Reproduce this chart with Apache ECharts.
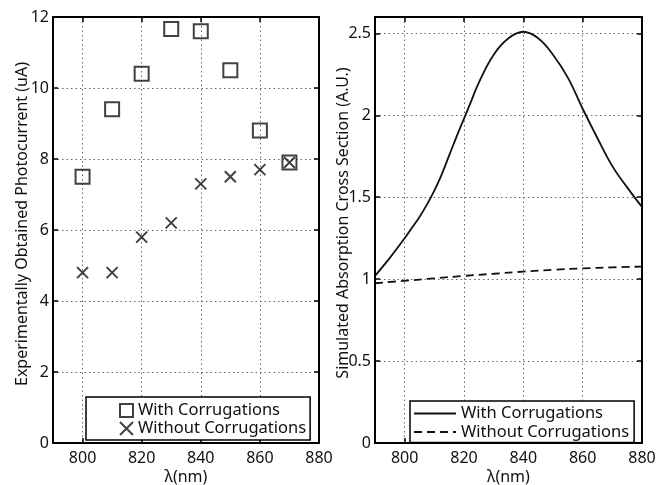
<!DOCTYPE html>
<html>
<head>
<meta charset="utf-8">
<script src="https://cdn.jsdelivr.net/npm/echarts@6/dist/echarts.min.js"></script>
<style>
  html, body { margin: 0; padding: 0; background: #fff; }
  #main { width: 666px; height: 485px; }
</style>
</head>
<body>
<div id="main"></div>
<script>
// measured photocurrent (left panel)
const wavelengths = [800, 810, 820, 830, 840, 850, 860, 870];
const withCorr = [7.5, 9.4, 10.4, 11.66, 11.6, 10.5, 8.8, 7.9];
const withoutCorr = [4.8, 4.8, 5.8, 6.2, 7.3, 7.5, 7.7, 7.9];

// simulated absorption cross section (right panel)
const simX = [790, 795, 800, 802.5, 805, 807.5, 810, 812.5, 815, 817.5, 820, 822.5, 825, 830, 835, 840, 845, 850, 855, 860, 865, 870, 875, 880];
const simWith = [1.02, 1.13, 1.25, 1.315, 1.38, 1.455, 1.54, 1.64, 1.755, 1.87, 1.98, 2.09, 2.2, 2.37, 2.47, 2.51, 2.47, 2.37, 2.23, 2.04, 1.86, 1.69, 1.56, 1.44];
const simWithoutX = [790, 800, 810, 820, 830, 840, 850, 860, 870, 880];
const simWithout = [0.975, 0.99, 1.005, 1.02, 1.033, 1.046, 1.057, 1.066, 1.072, 1.077];

const legendNames = ['With Corrugations', 'Without Corrugations'];
const xTicks = [800, 820, 840, 860, 880];

const FONT = 'Noto Sans';
const INK = '#111';
const chartDom = document.getElementById('main');
const myChart = echarts.init(chartDom);

const frameLine = { show: true, onZero: false, lineStyle: { color: '#000', width: 2 } };
const innerTick = { show: true, inside: true, length: 5, lineStyle: { color: '#000', width: 1.5 } };
const dotted = { show: true, lineStyle: { type: [1.5, 3], color: '#666', width: 1 } };
const tickFont = { fontFamily: FONT, fontSize: 16, color: INK };
const titleFont = { fontFamily: FONT, fontSize: 16, color: INK };

function xAxisFor(gridIndex) {
    return {
        type: 'value', gridIndex: gridIndex, min: 790, max: 880,
        axisLine: frameLine, axisTick: innerTick, splitLine: dotted,
        axisLabel: Object.assign({ margin: 7, showMinLabel: false,
            formatter: v => (xTicks.indexOf(v) >= 0 ? String(v) : '') }, tickFont),
        name: 'λ(nm)', nameLocation: 'middle', nameGap: 26, nameMoveOverlap: false,
        nameTextStyle: titleFont
    };
}
function topAxisFor(gridIndex) {
    return {
        type: 'value', gridIndex: gridIndex, min: 790, max: 880, position: 'top',
        axisLine: frameLine, axisTick: innerTick, axisLabel: { show: false }, splitLine: { show: false }
    };
}
function rightAxisFor(gridIndex, max, interval) {
    return {
        type: 'value', gridIndex: gridIndex, min: 0, max: max, interval: interval, position: 'right',
        axisLine: frameLine, axisTick: innerTick, axisLabel: { show: false }, splitLine: { show: false }
    };
}

const legendBase = {
    orient: 'vertical', borderColor: '#000', borderWidth: 1.5, backgroundColor: '#fff',
    selectedMode: false, itemStyle: { opacity: 0 },
    textStyle: { fontFamily: FONT, fontSize: 16.5, color: INK, lineHeight: 16 }
};

const option = {
    animation: false,
    backgroundColor: '#fff',
    grid: [
        { left: 53, top: 17, width: 266, height: 426, outerBoundsMode: 'none' },
        { left: 375, top: 17, width: 267, height: 426, outerBoundsMode: 'none' }
    ],
    xAxis: [xAxisFor(0), xAxisFor(1), topAxisFor(0), topAxisFor(1)],
    yAxis: [
        {
            type: 'value', gridIndex: 0, min: 0, max: 12, interval: 2,
            axisLine: frameLine, axisTick: innerTick, splitLine: dotted,
            axisLabel: Object.assign({ margin: 4 }, tickFont),
            name: 'Experimentally Obtained Photocurrent (uA)', nameLocation: 'middle',
            nameGap: 23, nameMoveOverlap: false,
            nameTextStyle: Object.assign({ padding: [0, 0, 0, 12] }, titleFont)
        },
        {
            type: 'value', gridIndex: 1, min: 0, max: 2.6, interval: 0.5,
            axisLine: frameLine, axisTick: innerTick, splitLine: dotted,
            axisLabel: Object.assign({ margin: 4, showMaxLabel: false,
                formatter: v => (Math.abs(v * 2 - Math.round(v * 2)) < 1e-6 ? String(v) : '') }, tickFont),
            name: 'Simulated Absorption Cross Section (A.U.)', nameLocation: 'middle',
            nameGap: 24, nameMoveOverlap: false,
            nameTextStyle: Object.assign({ padding: [0, 0, 0, 14] }, titleFont)
        },
        rightAxisFor(0, 12, 2),
        rightAxisFor(1, 2.6, 0.5)
    ],
    legend: [
        Object.assign({}, legendBase, {
            data: legendNames, left: 86, top: 397,
            padding: [5, 4, 3, 33], itemGap: 1, itemWidth: 13, itemHeight: 13,
            itemStyle: {}
        }),
        Object.assign({}, legendBase, {
            data: legendNames.map(n => n + ' (sim)'), left: 410, top: 401,
            padding: [4, 5, 2, 3], itemGap: 1.5, itemWidth: 42, itemHeight: 15,
            formatter: n => n.replace(' (sim)', '')
        })
    ],
    series: [
        {
            name: legendNames[0], type: 'scatter', xAxisIndex: 0, yAxisIndex: 0,
            symbol: 'rect', symbolSize: 14,
            itemStyle: { color: 'transparent', borderColor: INK, borderWidth: 2 },
            emphasis: { disabled: true },
            data: wavelengths.map((x, i) => [x, withCorr[i]])
        },
        {
            name: legendNames[1], type: 'scatter', xAxisIndex: 0, yAxisIndex: 0,
            symbol: 'path://M0,0L10,10M10,0L0,10', symbolSize: 11,
            itemStyle: { color: 'transparent', borderColor: INK, borderWidth: 2 },
            emphasis: { disabled: true },
            data: wavelengths.map((x, i) => [x, withoutCorr[i]])
        },
        {
            name: legendNames[0] + ' (sim)', type: 'line', xAxisIndex: 1, yAxisIndex: 1,
            symbol: 'none', showSymbol: false, smooth: 0.4,
            itemStyle: { color: INK },
            lineStyle: { color: INK, width: 1.8 },
            emphasis: { disabled: true },
            data: simX.map((x, i) => [x, simWith[i]])
        },
        {
            name: legendNames[1] + ' (sim)', type: 'line', xAxisIndex: 1, yAxisIndex: 1,
            symbol: 'none', showSymbol: false, smooth: true,
            itemStyle: { color: INK },
            lineStyle: { color: INK, width: 1.8, type: [8, 5] },
            emphasis: { disabled: true },
            data: simWithoutX.map((x, i) => [x, simWithout[i]])
        }
    ]
};

myChart.setOption(option);
</script>
</body>
</html>
